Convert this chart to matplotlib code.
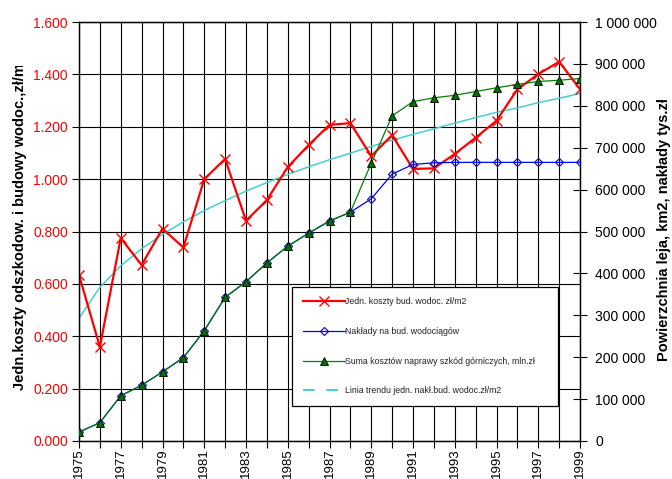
import matplotlib
matplotlib.use("Agg")
import matplotlib.pyplot as plt
from matplotlib.lines import Line2D
from matplotlib.ticker import MultipleLocator, FuncFormatter, FormatStrFormatter
from matplotlib.transforms import Bbox, TransformedBbox

plt.rcParams['font.family'] = ['Liberation Sans', 'DejaVu Sans']

# --- data -------------------------------------------------------------
years = list(range(1975, 2000))

# unit cost of water-supply construction, zł/m2 (left axis)
unit_cost = [0.634, 0.359, 0.775, 0.672, 0.811, 0.739, 1.000, 1.077, 0.841,
             0.920, 1.046, 1.130, 1.207, 1.214, 1.088, 1.168, 1.039, 1.041,
             1.096, 1.158, 1.223, 1.343, 1.401, 1.448, 1.344]

# power trend line of the unit cost (left axis)
trend = [0.469, 0.587, 0.669, 0.734, 0.789, 0.837, 0.880, 0.918, 0.954,
         0.987, 1.018, 1.047, 1.074, 1.099, 1.125, 1.149, 1.171, 1.192,
         1.214, 1.235, 1.255, 1.272, 1.292, 1.309, 1.327]

# spending on water-supply construction (right axis)
investments = [21500, 43700, 108000, 133000, 165000, 199000, 263000, 343000,
               380000, 425000, 465000, 496000, 525000, 546000, 578000, 637000,
               660000, 664000, 665000, 665000, 665000, 665000, 665000, 665000,
               665000]

# total cost of mining damage repair (right axis)
damage_sum = [21500, 43700, 108000, 133000, 165000, 199000, 263000, 343000,
              380000, 425000, 465000, 496000, 525000, 546000, 663000, 776000,
              810000, 819000, 825000, 834000, 843000, 851000, 858000, 861000,
              865000]

labels = ["Jedn. koszty bud. wodoc. zł/m2",
          "Nakłady na bud. wodociągów",
          "Suma kosztów naprawy szkód górniczych, mln.zł",
          "Linia trendu jedn. nakł.bud. wodoc.zł/m2"]

left_title = "Jedn.koszty odszkodow. i budowy wodoc.,zł/m2"
right_title = "Powierzchnia leja, km2, nakłady tys.zł"

# --- figure -----------------------------------------------------------
W, H = 672, 479
fig = plt.figure(figsize=(W / 100, H / 100), dpi=100)
ax = fig.add_axes([79 / W, 1 - 441 / H, 501 / W, 419 / H])
ax2 = ax.twinx()

c_red = '#FF0000'
c_blue = '#0000FF'
c_green = '#008000'
c_cyan = '#45CFCF'

ax.plot(years, trend, color=c_cyan, lw=1.1, zorder=2)
l_red, = ax.plot(years, unit_cost, color=c_red, lw=1.6, marker='x', ms=7,
                 mew=1.0, zorder=3)
l_blue, = ax2.plot(years, investments, color=c_blue, lw=0.9, marker='D',
                   ms=4.5, mfc='none', mec='#1A1AA8', mew=0.9, zorder=3)
l_green, = ax2.plot(years, damage_sum, color=c_green, lw=0.9, marker='^',
                    ms=6, mfc='#007000', mec='black', mew=0.6, zorder=4)

# axes ranges and ticks
ax.set_xlim(years[0], years[-1])
ax.set_ylim(0, 1.6)
ax2.set_ylim(0, 1_000_000)

ax.yaxis.set_major_locator(MultipleLocator(0.2))
ax.yaxis.set_major_formatter(FormatStrFormatter('%.3f'))
ax2.yaxis.set_major_locator(MultipleLocator(100_000))
ax2.yaxis.set_major_formatter(
    FuncFormatter(lambda v, p: f"{v:,.0f}".replace(",", " ")))

ax.set_xticks(years)
ax.set_xticklabels([str(y) if (y - years[0]) % 2 == 0 else '' for y in years],
                   rotation=90)

ax.tick_params(axis='x', direction='out', length=5, width=0.8, pad=0,
               labelsize=9.5, colors='black')
ax.tick_params(axis='y', direction='out', length=5, width=0.8, pad=3,
               labelsize=10, labelcolor=c_red, color='black')
ax2.tick_params(axis='y', direction='inout', length=10, width=0.8, pad=6,
                labelsize=10, colors='black')

ax.grid(True, axis='both', color='black', lw=0.8, zorder=0)
ax.set_axisbelow(True)

for a in (ax, ax2):
    for s in a.spines.values():
        s.set_color('black')
        s.set_linewidth(0.9)

# legend
trend_handle = Line2D([], [], color=c_cyan, lw=1.4, dashes=(6, 6))
leg = ax2.legend([l_red, l_blue, l_green, trend_handle], labels,
                 loc='upper left',
                 bbox_to_anchor=((292 - 79) / 501, (441 - 407) / 419,
                                 (558 - 292) / 501, (407 - 287) / 419),
                 mode='expand', fontsize=6.3, frameon=True, fancybox=False,
                 edgecolor='black', framealpha=1, borderpad=1.2,
                 labelspacing=2.35, handlelength=4.8, handletextpad=0.1,
                 borderaxespad=0)
leg.get_frame().set_linewidth(0.9)
for t in leg.get_texts():
    t.set_color('#222222')

# axis titles, clipped to the chart area
t1 = fig.text(20 / W, 1 - 390 / H, left_title, rotation=90, ha='center',
              va='bottom', fontsize=10.5, fontweight='bold', clip_on=True)
t1.set_clip_box(TransformedBbox(Bbox([[0, 0], [1, 1 - 66 / H]]),
                                fig.transFigure))
t2 = fig.text(664 / W, 1 - 361 / H, right_title, rotation=90, ha='center',
              va='bottom', fontsize=10.5, fontweight='bold', clip_on=True)
t2.set_clip_box(TransformedBbox(Bbox([[0, 0], [1, 1 - 100 / H]]),
                                fig.transFigure))

fig.savefig('out.png', dpi=100)
